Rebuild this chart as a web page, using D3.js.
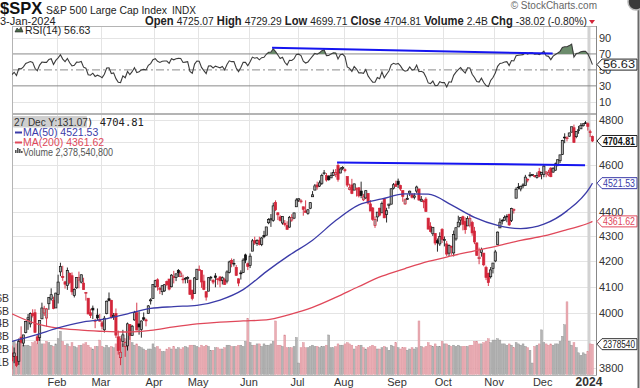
<!DOCTYPE html>
<html lang="en">
<head>
<meta charset="UTF-8" />
<title>$SPX - S&amp;P 500 Large Cap Index</title>
<script src="https://d3js.org/d3.v7.min.js"></script>
<style>
  body { margin: 0; background: #fff; }
  svg { display: block; font-family: 'Liberation Sans', Arial, sans-serif; }
  .grid line { stroke: #e4e4e4; stroke-width: 1; shape-rendering: crispEdges; }
  .axisText { font-size: 11px; fill: #333; }
</style>
</head>
<body>
<svg id="chart" width="640" height="388"></svg>
<script>
// ---------- data (daily, 3-Jan-2023 .. 3-Jan-2024) ----------
const monthLabels = ['Jan', 'Feb', 'Mar', 'Apr', 'May', 'Jun', 'Jul', 'Aug', 'Sep', 'Oct', 'Nov', 'Dec', '2024'];
const monthDays = [20, 19, 23, 19, 22, 21, 20, 23, 20, 22, 21, 20, 2];

// Nov/Dec 2022 closes, only used to warm up RSI(14)
const priorCloses = [3856.10,3759.69,3719.89,3770.55,3806.80,3828.11,3748.57,3956.37,3992.93,3957.25,3991.73,3958.79,3946.56,3965.34,3949.94,4003.58,4027.26,4026.12,3963.94,3957.63,4080.11,
  4076.57,4071.70,3998.84,3941.26,3933.92,3963.51,3934.38,3990.56,4019.65,3995.32,3895.75,3852.36,3817.66,3821.62,3878.44,3822.39,3844.82,3829.25,3783.22,3849.28,3839.50];

const opens = [
  3853,3840,3840,3823,3911,3889,3928,3977,3960,3999,4002,3912,3910,3979,4001,3982,4036,4054,4049,4020,
  4071,4159,4141,4120,4106,4153,4144,4068,4097,4127,4119,4115,4078,4057,4002,4019,3973,3993,3977,
  3964,3938,3999,4055,4049,3987,3999,3912,3836,3895,3876,3879,3958,3917,3975,4002,3960,3939,3983,3975,3999,4047,4056,
  4102,4128,4095,4082,4085,4121,4131,4101,4140,4137,4165,4140,4131,4132,4133,4127,4088,4075,4130,
  4167,4165,4123,4082,4084,4136,4125,4143,4132,4139,4126,4128,4123,4157,4204,4191,4176,4132,4155,4157,4226,4191,
  4184,4241,4283,4271,4285,4268,4304,4305,4356,4368,4366,4440,4397,4380,4355,4354,4345,4338,4367,4375,4422,
  4450,4443,4422,4405,4395,4416,4464,4492,4514,4509,4521,4563,4554,4550,4544,4555,4559,4598,4565,4585,
  4579,4550,4494,4514,4492,4498,4502,4488,4451,4459,4478,4434,4417,4345,4380,4416,4397,4455,4390,4427,4433,4500,4518,
  4530,4511,4490,4434,4452,4480,4473,4462,4488,4497,4446,4446,4454,4375,4342,4311,4312,4283,4270,4328,
  4284,4270,4233,4260,4234,4290,4339,4367,4381,4361,4343,4346,4357,4322,4274,4211,4236,4233,4176,4153,4140,4172,
  4202,4268,4335,4365,4366,4383,4391,4365,4406,4458,4505,4497,4510,4512,4538,4553,4555,4554,4546,4571,4558,
  4559,4564,4557,4586,4569,4577,4600,4618,4646,4722,4715,4726,4744,4764,4724,4754,4759,4773,4786,4782,
  4746,4725
];
const highs = [
  3878,3873,3840,3906,3951,3919,3970,3997,4003,4015,4015,3923,3973,4040,4028,4020,4061,4095,4063,4078,
  4148,4195,4183,4124,4176,4157,4157,4095,4139,4160,4149,4136,4081,4057,4017,4029,3979,4018,3997,
  3971,3990,4048,4079,4051,4001,4018,3935,3906,3938,3894,3965,3959,3956,4009,4040,4007,3973,4003,3980,4031,4057,4110,
  4128,4134,4100,4108,4110,4125,4131,4150,4163,4152,4170,4163,4148,4139,4142,4127,4089,4139,4170,
  4184,4165,4148,4083,4139,4143,4131,4154,4133,4143,4141,4136,4165,4203,4212,4210,4186,4133,4165,4213,4231,4196,
  4232,4290,4299,4289,4299,4298,4323,4339,4375,4392,4439,4449,4400,4387,4382,4367,4362,4384,4391,4398,4458,
  4457,4454,4422,4449,4413,4442,4488,4518,4528,4533,4562,4578,4565,4556,4568,4580,4582,4607,4590,4595,
  4585,4550,4519,4540,4520,4503,4503,4528,4476,4490,4479,4450,4421,4382,4400,4418,4444,4458,4418,4434,4501,4522,4532,
  4541,4515,4490,4457,4474,4490,4479,4479,4511,4497,4467,4451,4462,4376,4358,4338,4314,4292,4317,4334,
  4300,4282,4268,4263,4324,4336,4385,4378,4385,4378,4383,4393,4364,4339,4276,4255,4255,4234,4183,4156,4178,4194,
  4246,4320,4374,4372,4386,4391,4393,4418,4415,4504,4522,4511,4521,4557,4542,4569,4560,4555,4568,4587,4570,
  4599,4572,4579,4590,4590,4610,4623,4644,4710,4739,4726,4742,4768,4778,4749,4772,4785,4785,4794,4788,
  4755,4729
];
const lows = [
  3794,3816,3802,3810,3888,3877,3925,3938,3947,3984,3926,3886,3897,3978,3990,3950,4013,4048,4015,4021,
  4037,4142,4124,4094,4089,4111,4070,4060,4093,4095,4114,4089,4048,3996,3982,3978,3944,3974,3969,
  3940,3928,3996,4045,3980,3975,3908,3847,3809,3875,3839,3862,3901,3917,3972,3937,3920,3909,3971,3951,3999,4033,4056,
  4098,4086,4073,4069,4082,4103,4087,4099,4114,4123,4139,4140,4114,4114,4115,4071,4049,4075,4127,
  4164,4097,4088,4048,4084,4124,4111,4099,4109,4099,4110,4109,4114,4153,4177,4180,4143,4103,4129,4155,4193,4166,
  4174,4241,4266,4262,4264,4261,4293,4305,4350,4339,4360,4404,4367,4361,4348,4341,4329,4336,4360,4371,4422,
  4442,4436,4385,4398,4389,4412,4464,4492,4494,4505,4514,4557,4528,4532,4544,4553,4547,4528,4564,4577,
  4568,4505,4491,4475,4492,4465,4461,4458,4446,4454,4432,4404,4364,4335,4361,4382,4396,4375,4357,4414,4432,4495,4507,
  4501,4489,4443,4430,4451,4467,4457,4453,4479,4447,4443,4416,4402,4329,4316,4302,4265,4239,4262,4274,
  4260,4221,4221,4226,4220,4283,4339,4345,4325,4311,4343,4337,4303,4269,4223,4189,4219,4181,4127,4104,4133,4153,
  4197,4268,4335,4349,4365,4358,4343,4359,4394,4458,4495,4487,4500,4511,4525,4546,4552,4546,4541,4547,4538,
  4547,4547,4551,4547,4566,4575,4594,4608,4643,4695,4703,4723,4743,4698,4717,4737,4759,4769,4781,4751,
  4722,4700
];
const closes = [
  3824.14,3852.97,3808.10,3895.08,3892.09,3919.25,3969.61,3983.17,3999.09,3990.97,3928.86,3898.85,3972.61,4019.81,4016.95,4016.22,4060.43,4070.56,4017.77,4076.60,
  4119.21,4179.76,4136.48,4111.08,4164.00,4117.86,4081.50,4090.46,4137.29,4136.13,4147.60,4090.41,4079.09,3997.34,3991.05,4012.32,3970.04,3982.24,3970.15,
  3951.39,3981.35,4045.64,4048.42,3986.37,3992.01,3918.32,3861.59,3855.76,3919.29,3891.93,3960.28,3916.64,3951.57,4002.87,3936.97,3948.72,3970.99,3977.53,3971.27,4027.81,4050.83,4109.31,
  4124.51,4100.60,4090.38,4105.02,4109.11,4108.94,4091.95,4146.22,4137.64,4151.32,4154.87,4154.52,4129.79,4133.52,4137.04,4071.63,4055.99,4135.35,4169.48,
  4167.87,4119.58,4090.75,4061.22,4136.25,4138.12,4119.17,4137.64,4130.62,4124.08,4136.28,4109.90,4158.77,4198.05,4191.98,4192.63,4145.58,4115.24,4151.28,4205.45,4205.52,4179.83,
  4221.02,4282.37,4273.79,4283.85,4267.52,4293.93,4298.86,4338.93,4369.01,4372.59,4425.84,4409.59,4388.71,4365.69,4381.89,4348.33,4328.82,4378.41,4376.86,4396.44,4450.38,
  4455.59,4446.82,4411.59,4398.95,4409.53,4439.26,4472.16,4510.04,4505.42,4522.79,4554.98,4565.72,4534.87,4536.34,4554.64,4567.46,4566.75,4537.41,4582.23,4588.96,
  4576.73,4513.39,4501.89,4478.03,4518.44,4499.38,4467.71,4468.83,4464.05,4489.72,4437.86,4404.33,4370.36,4369.71,4399.77,4387.55,4436.01,4376.31,4405.71,4433.31,4497.63,4514.87,4507.66,
  4515.77,4496.83,4465.48,4451.14,4457.49,4487.46,4461.90,4467.44,4505.10,4450.32,4453.53,4443.95,4402.20,4330.00,4320.06,4337.44,4273.53,4274.51,4299.70,4288.05,
  4288.39,4229.45,4263.75,4258.19,4308.50,4335.66,4358.24,4376.95,4349.61,4327.78,4373.63,4373.20,4314.60,4278.00,4224.16,4217.04,4247.68,4186.77,4137.23,4117.37,4166.82,4193.80,
  4237.86,4317.78,4358.34,4365.98,4378.38,4382.78,4347.35,4415.24,4411.55,4495.70,4502.88,4508.24,4514.02,4547.38,4538.19,4556.62,4559.34,4550.43,4554.89,4550.58,4567.80,
  4594.63,4569.78,4567.18,4549.34,4585.59,4604.37,4622.44,4643.70,4707.09,4719.55,4719.19,4740.56,4768.37,4698.35,4746.75,4754.63,4774.75,4781.58,4783.35,4769.83,
  4742.83,4704.81
];
// volume, billions of shares
const volumes = [
  2.3,2.6,2.4,2.7,2.6,2.3,2.3,2.3,2.2,2.5,2.6,2.4,2.9,2.4,2.4,2.6,2.5,2.3,2.2,2.4,
  2.8,3.4,2.6,2.3,2.4,2.2,2.5,2.2,2.1,2.3,2.3,2.4,2.5,2.3,2.1,2.0,2.2,2.2,2.7,
  2.2,2.1,2.3,2.1,2.2,2.1,2.4,2.9,3.0,2.4,2.8,2.7,3.4,2.5,2.3,2.4,2.2,2.1,2.0,1.9,2.0,2.0,2.4,
  2.1,2.2,2.0,1.8,1.8,2.0,2.1,2.0,2.2,2.0,2.1,2.0,2.1,2.2,2.1,2.3,2.3,2.3,2.2,
  2.1,2.3,2.2,2.3,2.2,1.9,1.9,2.1,2.1,2.0,2.0,2.1,2.3,2.3,2.2,2.2,2.2,2.3,2.3,2.2,2.6,4.4,
  2.5,2.3,2.3,2.4,2.4,2.2,2.4,2.3,2.3,2.4,2.6,4.2,2.3,2.3,2.2,3.1,2.1,2.1,2.1,2.2,2.9,
  0.9,2.1,2.5,2.1,2.1,2.2,2.3,2.2,2.2,2.1,2.2,2.2,2.3,3.1,2.1,2.1,2.2,2.4,2.3,2.3,
  2.4,2.5,2.4,2.3,2.0,2.2,2.3,2.3,2.1,2.0,2.1,2.2,2.3,2.2,2.0,2.0,2.1,2.2,2.1,1.9,2.3,2.2,2.5,
  2.1,2.0,2.1,2.1,1.9,2.0,2.1,2.0,2.1,4.2,2.2,2.1,2.2,2.5,2.3,2.2,2.4,2.2,2.2,2.6,
  2.4,2.4,2.3,2.2,2.3,2.2,2.3,2.2,2.2,2.2,2.2,2.3,2.3,2.6,2.6,2.4,2.4,2.5,2.6,2.8,2.5,2.7,
  2.7,2.8,2.7,2.4,2.4,2.3,2.4,2.3,2.1,2.5,2.4,2.3,2.4,2.2,2.1,1.9,0.9,2.2,2.3,2.4,3.5,
  2.5,2.4,2.3,2.4,2.3,2.4,2.4,2.6,3.0,3.9,5.7,2.6,2.3,2.5,2.1,1.7,1.5,1.7,1.6,1.8,
  2.4,2.3785408
];
// moving averages: [trading-day index, value]
const ma50Points = [[0,3895],[10,3918],[20,3945],[30,3966],[40,3978],[50,3998],[60,4018],[70,4025],[80,4030],[90,4050],[100,4090],[110,4160],[120,4225],[130,4285],[140,4365],[150,4430],[160,4455],[170,4476],[180,4475],[190,4430],[200,4378],[210,4345],[220,4332],[230,4350],[240,4405],[250,4505],[251,4521.53]];
const ma200Points = [[0,3998],[10,3962],[20,3944],[30,3937],[40,3932],[50,3930],[60,3936],[70,3949],[80,3960],[90,3967],[100,3971],[110,3975],[120,3995],[130,4022],[140,4060],[150,4102],[160,4142],[170,4172],[180,4200],[190,4222],[200,4242],[210,4262],[220,4284],[230,4302],[240,4328],[250,4357],[251,4361.62]];
// hand-drawn trend lines: [trading-day index, value]
const rsiTrend = [[112.5, 77.9], [233.8, 70.4]];
const priceTrend = [[140.6, 4610], [247.8, 4599]];

const priceTicks = [3800, 3900, 4000, 4100, 4200, 4300, 4400, 4500, 4600, 4700, 4800];
const rsiTicks = [10, 30, 50, 70, 90];
const volTicks = [1, 2, 3, 4, 5, 6];
const quote = { open: '4725.07', high: '4729.29', low: '4699.71', close: '4704.81', volume: '2.4B', chg: '-38.02 (-0.80%)' };
const lastRsi = 56.63, lastMa50 = 4521.53, lastMa200 = 4361.62, lastVolume = 2378540800;

// ---------- layout ----------
const W = 640, H = 388;
const left = 12, right = 596;
const rsiTop = 26, rsiBottom = 113, priceTop = 114, priceBottom = 375;
const red = '#d3263a', ma50Color = '#3b3ba8', ma200Color = '#e0485a';

const svg = d3.select('#chart');
svg.append('rect').attr('width', W).attr('height', H).attr('fill', '#fff');

const n = closes.length;
const x = d3.scaleLinear().domain([0, n]).range([10.7, 593.6]);
const cx = (i) => x(i + 0.5);
const step = x(1) - x(0);
const yR = d3.scaleLinear().domain([-4, 105]).range([rsiBottom, rsiTop]);
const yP = d3.scaleLog().domain([3773.9, 4826]).range([priceBottom, priceTop]);
const yV = d3.scaleLinear().domain([0, 20.43]).range([374.5, priceTop]);

// month start indices
const monthStarts = [];
monthDays.reduce((acc, d) => { monthStarts.push(acc); return acc + d; }, 0);

// RSI(14), Wilder smoothing
const allCloses = priorCloses.concat(closes);
const rsiAll = [];
let ag = 0, al = 0;
for (let k = 1; k < allCloses.length; k++) {
  const ch = allCloses[k] - allCloses[k - 1];
  const g = Math.max(ch, 0), l = Math.max(-ch, 0);
  if (k <= 14) { ag += g / 14; al += l / 14; }
  else { ag = (ag * 13 + g) / 14; al = (al * 13 + l) / 14; }
  rsiAll.push(100 - 100 / (1 + ag / al));
}
const rsi = rsiAll.slice(-n);

const bars = closes.map((c, i) => ({
  i, o: opens[i], h: highs[i], l: lows[i], c, v: volumes[i],
  up: c >= (i === 0 ? priorCloses[priorCloses.length - 1] : closes[i - 1])
}));

// ---------- grids & frames ----------
const grid = svg.append('g').attr('class', 'grid');
monthStarts.slice(1, 12).forEach((s) => {
  grid.append('line').attr('x1', Math.round(x(s)) + 0.5).attr('x2', Math.round(x(s)) + 0.5)
    .attr('y1', rsiTop).attr('y2', priceBottom);
});
priceTicks.forEach((t) => {
  grid.append('line').attr('x1', left).attr('x2', right)
    .attr('y1', Math.round(yP(t)) + 0.5).attr('y2', Math.round(yP(t)) + 0.5);
});
[10, 90].forEach((t) => {
  grid.append('line').attr('x1', left).attr('x2', right)
    .attr('y1', Math.round(yR(t)) + 0.5).attr('y2', Math.round(yR(t)) + 0.5);
});
// year separator
svg.append('line').attr('x1', x(monthStarts[12])).attr('x2', x(monthStarts[12]))
  .attr('y1', rsiTop).attr('y2', priceBottom).attr('stroke', '#d2d2d2').attr('stroke-width', 3);

// RSI reference lines
[30, 70].forEach((t) => {
  svg.append('line').attr('x1', left).attr('x2', right)
    .attr('y1', yR(t)).attr('y2', yR(t)).attr('stroke', '#8a8a8a').attr('stroke-width', 1);
});
svg.append('line').attr('x1', left).attr('x2', right).attr('y1', yR(50)).attr('y2', yR(50))
  .attr('stroke', '#8a8a8a').attr('stroke-dasharray', '8,3,2,3');

// panel frames
const frame = svg.append('g').attr('fill', 'none').attr('stroke', '#b4b4b4').attr('shape-rendering', 'crispEdges');
frame.append('rect').attr('x', left + 0.5).attr('y', rsiTop + 0.5).attr('width', right - left).attr('height', rsiBottom - rsiTop);
frame.append('rect').attr('x', left + 0.5).attr('y', priceTop + 0.5).attr('width', right - left).attr('height', priceBottom - priceTop);

// clip paths
const defs = svg.append('defs');
defs.append('clipPath').attr('id', 'clipP').append('rect')
  .attr('x', left).attr('y', priceTop).attr('width', right - left).attr('height', priceBottom - priceTop);
defs.append('clipPath').attr('id', 'clipR').append('rect')
  .attr('x', left).attr('y', rsiTop).attr('width', right - left).attr('height', rsiBottom - rsiTop);

// ---------- RSI panel ----------
const rsiG = svg.append('g').attr('clip-path', 'url(#clipR)');
rsiG.append('path').datum(rsi)
  .attr('d', d3.area().x((d, i) => cx(i)).y0(yR(70)).y1((d) => yR(Math.max(d, 70))))
  .attr('fill', '#6c8c6c').attr('stroke', 'none');
rsiG.append('path').datum(rsi)
  .attr('d', d3.line().x((d, i) => cx(i)).y((d) => yR(d)))
  .attr('fill', 'none').attr('stroke', '#3c3c3c').attr('stroke-width', 1.1);
rsiG.append('line')
  .attr('x1', cx(rsiTrend[0][0])).attr('y1', yR(rsiTrend[0][1]))
  .attr('x2', cx(rsiTrend[1][0])).attr('y2', yR(rsiTrend[1][1]))
  .attr('stroke', '#1515f0').attr('stroke-width', 2);

// ---------- price panel ----------
const pg = svg.append('g').attr('clip-path', 'url(#clipP)');
// volume
pg.append('g').selectAll('rect').data(bars).join('rect')
  .attr('x', (d) => x(d.i) + 0.2)
  .attr('width', step - 0.4)
  .attr('y', (d) => yV(d.v))
  .attr('height', (d) => yV(0) - yV(d.v))
  .attr('fill', (d) => (d.up ? '#b5b5b5' : '#eaadb4'))
  .attr('stroke', (d) => (d.up ? '#8e8e8e' : '#d98a94'))
  .attr('stroke-width', 0.4);

// candles
const cg = pg.append('g');
cg.selectAll('line').data(bars).join('line')
  .attr('x1', (d) => cx(d.i)).attr('x2', (d) => cx(d.i))
  .attr('y1', (d) => yP(d.h)).attr('y2', (d) => yP(d.l))
  .attr('stroke', (d) => (d.up ? '#111' : red)).attr('stroke-width', 0.9);
cg.selectAll('rect').data(bars).join('rect')
  .attr('x', (d) => cx(d.i) - 1.1)
  .attr('width', 2.2)
  .attr('y', (d) => yP(Math.max(d.o, d.c)))
  .attr('height', (d) => Math.max(0.8, Math.abs(yP(d.o) - yP(d.c))))
  .attr('fill', (d) => (d.c > d.o ? '#a9a9a9' : (d.up ? '#111' : red)))
  .attr('stroke', (d) => (d.up ? '#111' : red))
  .attr('stroke-width', 0.7);

// moving averages
const maLine = d3.line().x((d) => cx(d[0])).y((d) => yP(d[1])).curve(d3.curveMonotoneX);
pg.append('path').datum(ma200Points).attr('d', maLine)
  .attr('fill', 'none').attr('stroke', ma200Color).attr('stroke-width', 1.3);
pg.append('path').datum(ma50Points).attr('d', maLine)
  .attr('fill', 'none').attr('stroke', ma50Color).attr('stroke-width', 1.3);

// trend line
pg.append('line')
  .attr('x1', cx(priceTrend[0][0])).attr('y1', yP(priceTrend[0][1]))
  .attr('x2', cx(priceTrend[1][0])).attr('y2', yP(priceTrend[1][1]))
  .attr('stroke', '#1515f0').attr('stroke-width', 2);

// ---------- right axis ----------
svg.append('line').attr('x1', right + 0.5).attr('x2', right + 0.5).attr('y1', rsiTop).attr('y2', priceBottom)
  .attr('stroke', '#888');

const tagsP = [
  { y: yP(closes[n - 1]), text: closes[n - 1].toFixed(2), stroke: '#222', color: '#111', bold: true },
  { y: yP(lastMa50), text: lastMa50.toFixed(2), stroke: ma50Color, color: ma50Color, bold: false },
  { y: yP(lastMa200), text: lastMa200.toFixed(2), stroke: ma200Color, color: ma200Color, bold: false },
  { y: yV(lastVolume / 1e9), text: String(lastVolume).slice(0, 7), stroke: '#333', color: '#222', bold: false }
];

priceTicks
  .filter((t) => !tagsP.some((g) => Math.abs(g.y - yP(t)) < 8))
  .forEach((t) => {
    svg.append('text').attr('class', 'axisText').attr('x', 599).attr('y', yP(t) + 4).text(t);
  });
rsiTicks.forEach((t) => {
  svg.append('text').attr('class', 'axisText').attr('x', 599).attr('y', yR(t) + 4).text(t);
});

function tag(t) {
  const y = t.y;
  svg.append('path')
    .attr('d', `M597,${y} L602,${y - 5.5} L637,${y - 5.5} L637,${y + 5.5} L602,${y + 5.5} Z`)
    .attr('fill', '#fff').attr('stroke', t.stroke).attr('stroke-width', 1);
  svg.append('text').attr('x', 603).attr('y', y + 3.8).attr('fill', t.color)
    .attr('font-size', 10.5).attr('font-weight', t.bold ? 'bold' : 'normal')
    .attr('textLength', 32).attr('lengthAdjust', 'spacingAndGlyphs').text(t.text);
}
tagsP.forEach(tag);
tag({ y: yR(lastRsi), text: lastRsi.toFixed(2), stroke: '#222', color: '#222', bold: false });

// volume scale labels (left, clipped by window edge)
volTicks.forEach((t) => {
  svg.append('text').attr('x', 9).attr('y', yV(t) + 4).attr('text-anchor', 'end')
    .attr('font-size', 10.5).attr('fill', '#333').text(t + 'B');
});

// month labels
monthStarts.slice(1).forEach((s, k) => {
  const last = k === 11;
  svg.append('text').attr('x', x(s)).attr('y', 386).attr('text-anchor', 'middle')
    .attr('font-size', last ? 12 : 11).attr('font-weight', last ? 'bold' : 'normal')
    .attr('fill', '#333').text(monthLabels[k + 1]);
});

// ---------- legends ----------
// RSI legend
svg.append('path').attr('d', 'M15,32 L17,28 L19,30 L21,27 L23,32 Z').attr('fill', '#4a6a4a').attr('stroke', '#222').attr('stroke-width', 0.6);
svg.append('text').attr('x', 25).attr('y', 33.5).attr('font-size', 10.5).attr('fill', '#222')
  .text('RSI(14) ' + lastRsi.toFixed(2));

// price legend
svg.append('rect').attr('x', 13).attr('y', 116).attr('width', 74).attr('height', 11.5).attr('fill', '#cfcfcf').attr('rx', 1);
svg.append('text').attr('x', 14).attr('y', 125.5).attr('font-size', 10).attr('fill', '#333').text('27 Dec Y:131.07');
svg.append('text').attr('x', 87).attr('y', 125.5).attr('font-size', 10.5).attr('fill', '#222')
  .attr('font-family', "'DejaVu Sans Mono', monospace").text(') ' + closes[n - 1].toFixed(2));

const legendRows = [
  { y: 136, color: ma50Color, text: 'MA(50) ' + lastMa50.toFixed(2) },
  { y: 146, color: ma200Color, text: 'MA(200) ' + lastMa200.toFixed(2) }
];
legendRows.forEach((r) => {
  svg.append('line').attr('x1', 15).attr('x2', 22).attr('y1', r.y - 3.5).attr('y2', r.y - 3.5)
    .attr('stroke', r.color).attr('stroke-width', 2);
  svg.append('text').attr('x', 23).attr('y', r.y).attr('font-size', 10.5).attr('fill', r.color).text(r.text);
});
[[15, 3], [17, 5], [19, 4], [21, 2]].forEach(([bx, bh]) => {
  svg.append('rect').attr('x', bx).attr('y', 153 - bh).attr('width', 1.6).attr('height', bh).attr('fill', '#555');
});
svg.append('text').attr('x', 23).attr('y', 156).attr('font-size', 10).attr('fill', '#555')
  .attr('textLength', 90).attr('lengthAdjust', 'spacingAndGlyphs')
  .text('Volume ' + d3.format(',')(lastVolume));

// ---------- header ----------
svg.append('text').attr('x', 0).attr('y', 14).attr('font-size', 16.5).attr('font-weight', 'bold').attr('fill', '#111').text('$SPX');
svg.append('text').attr('x', 46).attr('y', 13.5).attr('font-size', 11).attr('fill', '#222')
  .attr('textLength', 121).attr('lengthAdjust', 'spacingAndGlyphs').text('S&P 500 Large Cap Index');
svg.append('text').attr('x', 172).attr('y', 13.5).attr('font-size', 10).attr('fill', '#222').text('INDX');
svg.append('text').attr('x', 0).attr('y', 25).attr('font-size', 11).attr('fill', '#222').text('3-Jan-2024');
svg.append('text').attr('x', 597).attr('y', 9).attr('text-anchor', 'end').attr('font-size', 10).attr('fill', '#666')
  .text('\u00A9 StockCharts.com');

const q = svg.append('text').attr('x', 145).attr('y', 24.5).attr('fill', '#222')
  .attr('textLength', 442).attr('lengthAdjust', 'spacingAndGlyphs');
[['Open', quote.open], ['High', quote.high], ['Low', quote.low], ['Close', quote.close], ['Volume', quote.volume], ['Chg', quote.chg]]
  .forEach(([k, v], idx) => {
    q.append('tspan').attr('font-weight', 'bold').attr('font-size', 12).text((idx ? ' ' : '') + k + ' ');
    q.append('tspan').attr('font-size', 11).text(v);
  });
svg.append('path').attr('d', 'M589,20 L595,20 L592,24 Z').attr('fill', red);

// window chrome at the right edge
svg.append('line').attr('x1', 638.5).attr('x2', 638.5).attr('y1', 8).attr('y2', H).attr('stroke', '#6a6a6a').attr('stroke-width', 2);
svg.append('circle').attr('cx', 636).attr('cy', 2).attr('r', 8).attr('fill', '#3a3a3a').attr('stroke', '#bbb').attr('stroke-width', 1.5);
</script>
</body>
</html>
